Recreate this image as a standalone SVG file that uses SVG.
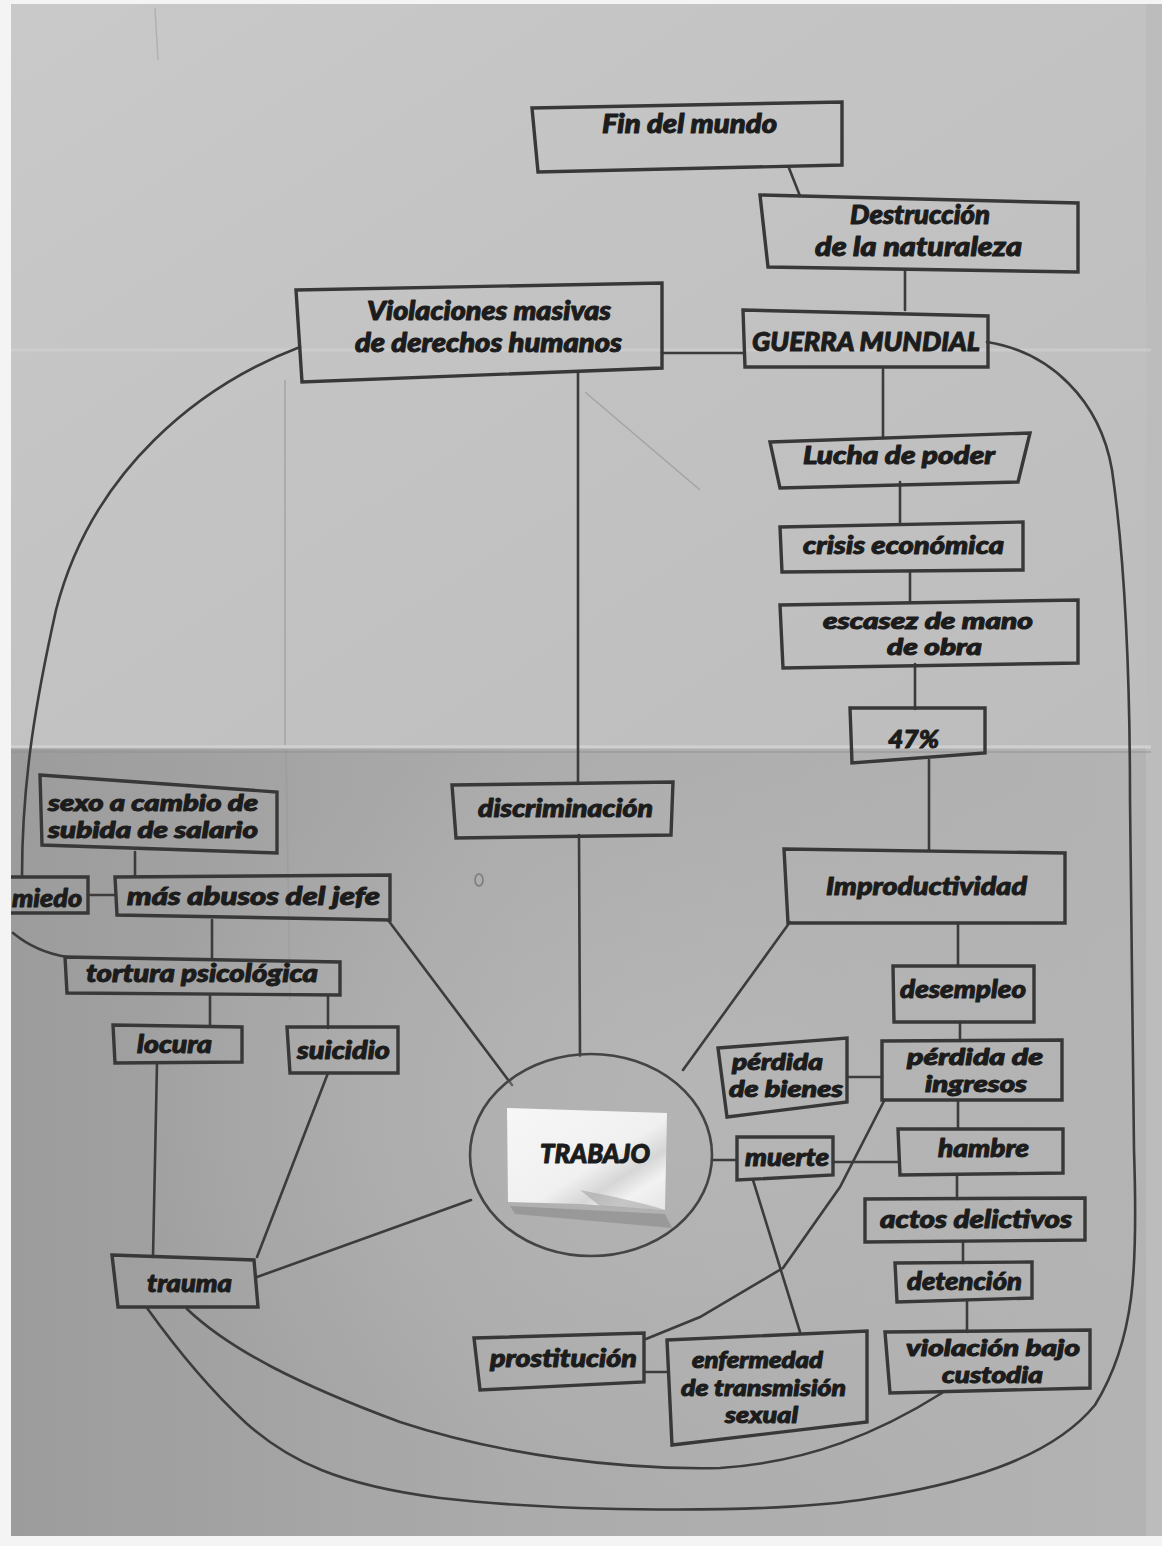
<svg xmlns="http://www.w3.org/2000/svg" width="1162" height="1546" viewBox="0 0 1162 1546">
  <defs>
    <linearGradient id="paperTop" x1="0" y1="0" x2="1" y2="1">
      <stop offset="0" stop-color="#c9c9c9"/>
      <stop offset="0.5" stop-color="#c2c2c2"/>
      <stop offset="1" stop-color="#bdbdbd"/>
    </linearGradient>
    <linearGradient id="paperBottom" x1="0" y1="0" x2="1" y2="0">
      <stop offset="0" stop-color="#9c9c9c"/>
      <stop offset="0.45" stop-color="#ababab"/>
      <stop offset="1" stop-color="#b3b3b3"/>
    </linearGradient>
    <radialGradient id="paperGlow" cx="0.6" cy="0.45" r="0.5">
      <stop offset="0" stop-color="#b8b8b8" stop-opacity="0.8"/>
      <stop offset="1" stop-color="#b8b8b8" stop-opacity="0"/>
    </radialGradient>
    <linearGradient id="card" x1="0" y1="0" x2="1" y2="1">
      <stop offset="0" stop-color="#f7f7f7"/>
      <stop offset="0.55" stop-color="#f0f0f0"/>
      <stop offset="0.7" stop-color="#d6d6d6"/>
      <stop offset="0.82" stop-color="#f2f2f2"/>
      <stop offset="1" stop-color="#e4e4e4"/>
    </linearGradient>
    <style>
      .box { fill: none; stroke: #383838; stroke-width: 3.4; stroke-linejoin: miter; }
      .link { fill: none; stroke: #3c3c3c; stroke-width: 2.6; stroke-linecap: round; }
      .crease { fill: none; stroke: #d6d6d6; stroke-width: 3; opacity: 0.8; }
      .crease-dark { fill: none; stroke: #8f8f8f; stroke-width: 1.5; opacity: 0.6; }
      .lbl { font-family: "Lato", "Open Sans", "Liberation Sans", sans-serif; font-weight: 900; font-style: italic; font-size: 25px; fill: #1c1c1c; stroke: #1c1c1c; stroke-width: 1; stroke-linejoin: round; }
      .cond { font-size: 26px; }
      .two { font-size: 22px; }
    </style>
  </defs>

  <!-- paper sheet -->
  <rect x="0" y="0" width="1162" height="1546" fill="#f4f4f4"/>
  <rect x="11" y="4" width="1140" height="745" fill="url(#paperTop)"/>
  <rect x="11" y="747" width="1140" height="789" fill="url(#paperBottom)"/>
  <rect x="11" y="747" width="1140" height="789" fill="url(#paperGlow)"/>
  <rect x="1146" y="4" width="16" height="1532" fill="#bcbcbc"/>

  <!-- folds and creases of the sheet -->
  <line class="crease" x1="11" y1="747" x2="1151" y2="747"/>
  <line class="crease-dark" x1="11" y1="752" x2="1151" y2="752"/>
  <line class="crease" x1="11" y1="350" x2="1151" y2="350" style="opacity:0.5"/>
  <line class="crease-dark" x1="285" y1="380" x2="285" y2="745"/>
  <line class="crease-dark" x1="286" y1="750" x2="290" y2="1000" style="opacity:0.3"/>
  <path class="crease-dark" d="M585,392 L700,490"/>
  <line class="crease-dark" x1="155" y1="8" x2="158" y2="60" style="opacity:0.4"/>
  <ellipse cx="479" cy="880" rx="4" ry="6" fill="none" stroke="#7a7a7a" stroke-width="1.5"/>

  <!-- connectors -->
  <g id="connectors">
    <line class="link" x1="789" y1="168" x2="800" y2="196"/>
    <line class="link" x1="905" y1="271" x2="905" y2="310"/>
    <line class="link" x1="662" y1="353" x2="743" y2="353"/>
    <line class="link" x1="883" y1="368" x2="883" y2="437"/>
    <line class="link" x1="900" y1="482" x2="900" y2="524"/>
    <line class="link" x1="910" y1="571" x2="910" y2="602"/>
    <line class="link" x1="915" y1="664" x2="915" y2="709"/>
    <line class="link" x1="929" y1="760" x2="929" y2="850"/>
    <line class="link" x1="958" y1="923" x2="958" y2="966"/>
    <line class="link" x1="960" y1="1022" x2="960" y2="1041"/>
    <line class="link" x1="958" y1="1100" x2="958" y2="1129"/>
    <line class="link" x1="957" y1="1174" x2="957" y2="1199"/>
    <line class="link" x1="963" y1="1241" x2="963" y2="1263"/>
    <line class="link" x1="967" y1="1300" x2="967" y2="1332"/>
    <line class="link" x1="847" y1="1077" x2="882" y2="1077"/>
    <line class="link" x1="833" y1="1162" x2="899" y2="1162"/>
    <line class="link" x1="712" y1="1160" x2="737" y2="1160"/>
    <line class="link" x1="753" y1="1180" x2="800" y2="1332"/>
    <polyline class="link" points="884,1101 840,1187 783,1268 700,1317 646,1339"/>
    <line class="link" x1="644" y1="1372" x2="667" y2="1372"/>
    <line class="link" x1="578" y1="372" x2="578" y2="784"/>
    <line class="link" x1="579" y1="835" x2="580" y2="1056"/>
    <line class="link" x1="388" y1="920" x2="512" y2="1085"/>
    <line class="link" x1="790" y1="922" x2="683" y2="1070"/>
    <line class="link" x1="257" y1="1277" x2="471" y2="1200"/>
    <line class="link" x1="328" y1="1073" x2="257" y2="1257"/>
    <line class="link" x1="157" y1="1063" x2="153" y2="1257"/>
    <line class="link" x1="210" y1="995" x2="210" y2="1026"/>
    <line class="link" x1="328" y1="995" x2="328" y2="1028"/>
    <line class="link" x1="212" y1="920" x2="212" y2="958"/>
    <line class="link" x1="135" y1="852" x2="135" y2="877"/>
    <line class="link" x1="88" y1="895" x2="115" y2="895"/>
    <path class="link" d="M13,933 Q36,952 67,957"/>
    <path class="link" d="M300,347 C200,385 92,470 56,610 C36,700 22,780 22,877"/>
    <path class="link" d="M987,342 C1050,352 1100,400 1112,470 C1125,560 1130,680 1130,800 L1134,1150 C1138,1270 1135,1340 1095,1405 C1050,1460 960,1485 860,1500 C760,1514 560,1512 440,1498 C340,1485 290,1462 246,1423 C205,1385 170,1340 147,1308"/>
    <path class="link" d="M187,1309 C230,1350 300,1385 400,1422 C500,1455 620,1470 720,1468 C810,1462 880,1432 942,1393"/>
  </g>

  <!-- nodes -->
  <g id="fin-del-mundo">
    <path class="box" d="M532,108 L842,102 L842,165 L538,172 Z"/>
    <text class="lbl cond" x="602" y="133" textLength="175" lengthAdjust="spacingAndGlyphs">Fin del mundo</text>
  </g>
  <g id="destruccion-naturaleza">
    <path class="box" d="M760,195 L1078,203 L1078,272 L768,267 Z"/>
    <text class="lbl cond" x="850" y="224" textLength="140" lengthAdjust="spacingAndGlyphs">Destrucción</text>
    <text class="lbl cond" x="815" y="256" textLength="207" lengthAdjust="spacingAndGlyphs">de la naturaleza</text>
  </g>
  <g id="violaciones-ddhh">
    <path class="box" d="M296,290 L662,283 L662,368 L302,382 Z"/>
    <text class="lbl cond" x="367" y="320" textLength="244" lengthAdjust="spacingAndGlyphs">Violaciones masivas</text>
    <text class="lbl cond" x="355" y="352" textLength="267" lengthAdjust="spacingAndGlyphs">de derechos humanos</text>
  </g>
  <g id="guerra-mundial">
    <path class="box" d="M743,310 L988,316 L988,367 L745,367 Z"/>
    <text class="lbl cond" x="752" y="351" textLength="228" lengthAdjust="spacingAndGlyphs">GUERRA MUNDIAL</text>
  </g>
  <g id="lucha-de-poder">
    <path class="box" d="M770,442 L1030,433 L1018,482 L780,488 Z"/>
    <text class="lbl" x="803" y="464" textLength="192" lengthAdjust="spacingAndGlyphs">Lucha de poder</text>
  </g>
  <g id="crisis-economica">
    <path class="box" d="M780,527 L1023,522 L1023,570 L782,572 Z"/>
    <text class="lbl" x="803" y="554" textLength="201" lengthAdjust="spacingAndGlyphs">crisis económica</text>
  </g>
  <g id="escasez-mano-obra">
    <path class="box" d="M780,605 L1078,600 L1078,663 L783,668 Z"/>
    <text class="lbl two" x="823" y="629" textLength="210" lengthAdjust="spacingAndGlyphs">escasez de mano</text>
    <text class="lbl two" x="887" y="655" textLength="95" lengthAdjust="spacingAndGlyphs">de obra</text>
  </g>
  <g id="cuarenta-siete">
    <path class="box" d="M850,708 L985,708 L985,753 L852,763 Z"/>
    <text class="lbl" x="888" y="748" textLength="51" lengthAdjust="spacingAndGlyphs">47%</text>
  </g>
  <g id="improductividad">
    <path class="box" d="M784,849 L1065,853 L1065,923 L788,923 Z"/>
    <text class="lbl" x="826" y="895" textLength="201" lengthAdjust="spacingAndGlyphs">Improductividad</text>
  </g>
  <g id="desempleo">
    <path class="box" d="M893,966 L1034,966 L1034,1022 L894,1022 Z"/>
    <text class="lbl" x="900" y="998" textLength="126" lengthAdjust="spacingAndGlyphs">desempleo</text>
  </g>
  <g id="perdida-ingresos">
    <path class="box" d="M882,1041 L1062,1040 L1062,1100 L882,1100 Z"/>
    <text class="lbl two" x="907" y="1065" textLength="136" lengthAdjust="spacingAndGlyphs">pérdida de</text>
    <text class="lbl two" x="925" y="1092" textLength="102" lengthAdjust="spacingAndGlyphs">ingresos</text>
  </g>
  <g id="perdida-bienes">
    <path class="box" d="M718,1048 L847,1038 L847,1102 L727,1117 Z"/>
    <text class="lbl two" x="732" y="1070" textLength="91" lengthAdjust="spacingAndGlyphs">pérdida</text>
    <text class="lbl two" x="729" y="1097" textLength="114" lengthAdjust="spacingAndGlyphs">de bienes</text>
  </g>
  <g id="hambre">
    <path class="box" d="M898,1129 L1063,1129 L1063,1173 L900,1175 Z"/>
    <text class="lbl" x="938" y="1157" textLength="91" lengthAdjust="spacingAndGlyphs">hambre</text>
  </g>
  <g id="muerte">
    <path class="box" d="M737,1137 L833,1137 L833,1175 L737,1180 Z"/>
    <text class="lbl" x="745" y="1166" textLength="84" lengthAdjust="spacingAndGlyphs">muerte</text>
  </g>
  <g id="actos-delictivos">
    <path class="box" d="M865,1199 L1085,1198 L1085,1240 L865,1242 Z"/>
    <text class="lbl" x="880" y="1228" textLength="192" lengthAdjust="spacingAndGlyphs">actos delictivos</text>
  </g>
  <g id="detencion">
    <path class="box" d="M895,1263 L1032,1262 L1032,1298 L897,1302 Z"/>
    <text class="lbl" x="907" y="1290" textLength="115" lengthAdjust="spacingAndGlyphs">detención</text>
  </g>
  <g id="violacion-custodia">
    <path class="box" d="M885,1332 L1090,1330 L1090,1388 L890,1393 Z"/>
    <text class="lbl two" x="906" y="1356" textLength="174" lengthAdjust="spacingAndGlyphs">violación bajo</text>
    <text class="lbl two" x="942" y="1383" textLength="101" lengthAdjust="spacingAndGlyphs">custodia</text>
  </g>
  <g id="enfermedad-ets">
    <path class="box" d="M667,1340 L867,1331 L867,1422 L672,1445 Z"/>
    <text class="lbl two" x="692" y="1368" textLength="131" lengthAdjust="spacingAndGlyphs">enfermedad</text>
    <text class="lbl two" x="681" y="1396" textLength="165" lengthAdjust="spacingAndGlyphs">de transmisión</text>
    <text class="lbl two" x="725" y="1423" textLength="73" lengthAdjust="spacingAndGlyphs">sexual</text>
  </g>
  <g id="prostitucion">
    <path class="box" d="M474,1338 L644,1333 L644,1382 L480,1390 Z"/>
    <text class="lbl" x="490" y="1367" textLength="147" lengthAdjust="spacingAndGlyphs">prostitución</text>
  </g>
  <g id="discriminacion">
    <path class="box" d="M452,785 L673,782 L671,835 L456,838 Z"/>
    <text class="lbl" x="478" y="817" textLength="175" lengthAdjust="spacingAndGlyphs">discriminación</text>
  </g>
  <g id="sexo-salario">
    <path class="box" d="M40,775 L277,792 L277,853 L42,845 Z"/>
    <text class="lbl two" x="48" y="811" textLength="210" lengthAdjust="spacingAndGlyphs">sexo a cambio de</text>
    <text class="lbl two" x="48" y="838" textLength="210" lengthAdjust="spacingAndGlyphs">subida de salario</text>
  </g>
  <g id="miedo">
    <path class="box" d="M11,877 L88,877 L88,913 L11,913"/>
    <text class="lbl" x="12" y="907" textLength="70" lengthAdjust="spacingAndGlyphs">miedo</text>
  </g>
  <g id="abusos-jefe">
    <path class="box" d="M115,877 L390,875 L390,920 L117,915 Z"/>
    <text class="lbl" x="127" y="905" textLength="253" lengthAdjust="spacingAndGlyphs">más abusos del jefe</text>
  </g>
  <g id="tortura-psicologica">
    <path class="box" d="M65,957 L340,962 L340,995 L67,993 Z"/>
    <text class="lbl" x="86" y="982" textLength="232" lengthAdjust="spacingAndGlyphs">tortura psicológica</text>
  </g>
  <g id="locura">
    <path class="box" d="M113,1025 L242,1027 L242,1062 L115,1063 Z"/>
    <text class="lbl" x="137" y="1053" textLength="75" lengthAdjust="spacingAndGlyphs">locura</text>
  </g>
  <g id="suicidio">
    <path class="box" d="M287,1027 L398,1027 L398,1073 L290,1073 Z"/>
    <text class="lbl" x="297" y="1059" textLength="93" lengthAdjust="spacingAndGlyphs">suicidio</text>
  </g>
  <g id="trauma">
    <path class="box" d="M112,1255 L254,1260 L258,1307 L118,1307 Z"/>
    <text class="lbl" x="147" y="1292" textLength="85" lengthAdjust="spacingAndGlyphs">trauma</text>
  </g>
  <g id="trabajo">
    <ellipse cx="591" cy="1155" rx="121" ry="101" fill="#b0b0b0" fill-opacity="0.35" stroke="#444" stroke-width="2.6"/>
    <path d="M510,1206 L665,1214 L672,1228 L515,1214 Z" fill="#6d6d6d" opacity="0.35"/>
    <path d="M507,1108 L667,1113 L665,1210 L580,1204 L508,1202 Z" fill="url(#card)"/>
    <path d="M580,1190 C610,1196 640,1202 665,1210 L600,1206 Z" fill="#9a9a9a" opacity="0.5"/>
    <text class="lbl" x="540" y="1163" textLength="110" lengthAdjust="spacingAndGlyphs" style="font-size:26px">TRABAJO</text>
  </g>
</svg>
